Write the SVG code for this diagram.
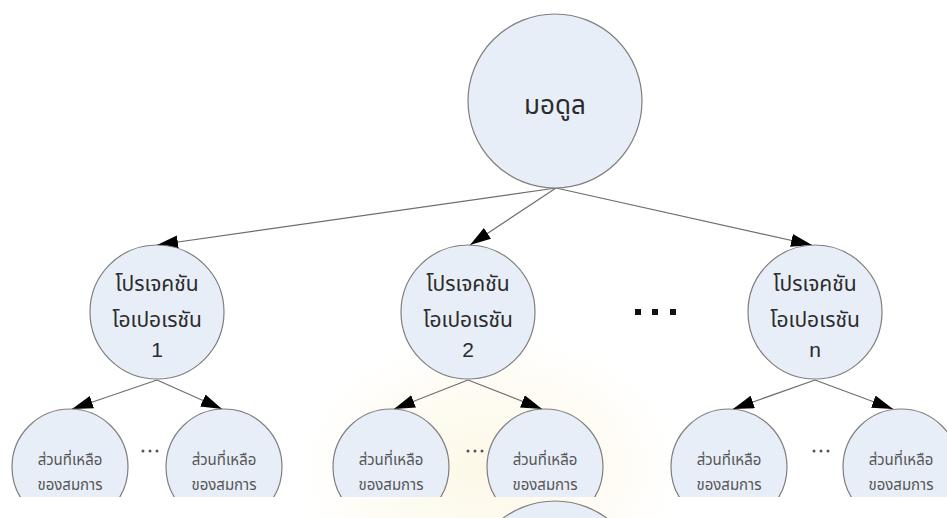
<svg xmlns="http://www.w3.org/2000/svg" width="947" height="518" viewBox="0 0 947 518">
  <style>
    .node { fill: #e8eef8; stroke: #7f7f7f; stroke-width: 1.2; }
    .edge { stroke: #6e6e6e; stroke-width: 1.2; fill: none; marker-end: url(#arrow); }
    .title { font-family: "Noto Sans Thai", Tahoma, "Noto Sans", "DejaVu Sans", sans-serif; font-size: 26px; fill: #2b2b2b; text-anchor: middle; }
    .big { font-family: "Noto Sans Thai", Tahoma, "Noto Sans", "DejaVu Sans", sans-serif; font-size: 21px; fill: #2b2b2b; text-anchor: middle; }
    .num { font-family: "Liberation Sans", Arial, sans-serif; font-size: 21px; fill: #2b2b2b; text-anchor: middle; }
    .small { font-family: "Noto Sans Thai", Tahoma, "Noto Sans", "DejaVu Sans", sans-serif; font-size: 15px; fill: #555; text-anchor: middle; }
    .dot { fill: #111; }
    .sdot { fill: #555; }
  </style>
  <defs>
    <marker id="arrow" markerUnits="userSpaceOnUse" markerWidth="22" markerHeight="14" refX="21" refY="6.5" orient="auto">
      <path d="M0,0 L21,6.5 L0,13 z" fill="#000"/>
    </marker>
    <radialGradient id="glow" cx="0.5" cy="0.5" r="0.5">
      <stop offset="0" stop-color="#fbf2d2" stop-opacity="0.55"/>
      <stop offset="0.65" stop-color="#fdf7e4" stop-opacity="0.35"/>
      <stop offset="1" stop-color="#ffffff" stop-opacity="0"/>
    </radialGradient>
    <clipPath id="page">
      <rect x="0" y="0" width="947" height="497"/>
    </clipPath>
  </defs>

  <rect x="0" y="0" width="947" height="518" fill="#ffffff"/>
  <!-- faint seal behind the lower middle -->
  <ellipse cx="490" cy="470" rx="210" ry="150" fill="url(#glow)"/>

  <g id="connectors">
    <line class="edge" x1="556" y1="188" x2="157" y2="245"/>
    <line class="edge" x1="556" y1="188" x2="470" y2="245"/>
    <line class="edge" x1="556" y1="188" x2="812" y2="245"/>
    <line class="edge" x1="157" y1="380" x2="72" y2="409"/>
    <line class="edge" x1="157" y1="380" x2="222" y2="409"/>
    <line class="edge" x1="468" y1="380" x2="394" y2="409"/>
    <line class="edge" x1="468" y1="380" x2="542" y2="409"/>
    <line class="edge" x1="815" y1="380" x2="733" y2="409"/>
    <line class="edge" x1="815" y1="380" x2="893" y2="409"/>
  </g>

  <g id="module">
    <circle class="node" cx="555" cy="101" r="87"/>
    <text class="title" x="555" y="114">มอดูล</text>
  </g>

  <g id="projection-1">
    <circle class="node" cx="157" cy="312" r="67"/>
    <text class="big" x="157" y="291">โปรเจคชัน</text>
    <text class="big" x="157" y="327">โอเปอเรชัน</text>
    <text class="num" x="157" y="357">1</text>
  </g>

  <g id="projection-2">
    <circle class="node" cx="468" cy="312" r="67"/>
    <text class="big" x="468" y="291">โปรเจคชัน</text>
    <text class="big" x="468" y="327">โอเปอเรชัน</text>
    <text class="num" x="468" y="357">2</text>
  </g>

  <g id="projection-ellipsis">
    <rect class="dot" x="635" y="309" width="6" height="6"/>
    <rect class="dot" x="652" y="309" width="6" height="6"/>
    <rect class="dot" x="670" y="309" width="6" height="6"/>
  </g>

  <g id="projection-n">
    <circle class="node" cx="815" cy="312" r="67"/>
    <text class="big" x="815" y="291">โปรเจคชัน</text>
    <text class="big" x="815" y="327">โอเปอเรชัน</text>
    <text class="num" x="815" y="357">n</text>
  </g>

  <g clip-path="url(#page)">
    <g id="rest-1a">
      <circle class="node" cx="70" cy="467" r="58"/>
      <text class="small" x="70" y="465">ส่วนที่เหลือ</text>
      <text class="small" x="70" y="490">ของสมการ</text>
    </g>
    <g id="rest-1-ellipsis">
      <circle class="sdot" cx="143" cy="451" r="1.5"/>
      <circle class="sdot" cx="150" cy="451" r="1.5"/>
      <circle class="sdot" cx="157" cy="451" r="1.5"/>
    </g>
    <g id="rest-1b">
      <circle class="node" cx="224" cy="467" r="58"/>
      <text class="small" x="224" y="465">ส่วนที่เหลือ</text>
      <text class="small" x="224" y="490">ของสมการ</text>
    </g>

    <g id="rest-2a">
      <circle class="node" cx="391" cy="467" r="58"/>
      <text class="small" x="391" y="465">ส่วนที่เหลือ</text>
      <text class="small" x="391" y="490">ของสมการ</text>
    </g>
    <g id="rest-2-ellipsis">
      <circle class="sdot" cx="468" cy="451" r="1.5"/>
      <circle class="sdot" cx="475" cy="451" r="1.5"/>
      <circle class="sdot" cx="482" cy="451" r="1.5"/>
    </g>
    <g id="rest-2b">
      <circle class="node" cx="545" cy="467" r="58"/>
      <text class="small" x="545" y="465">ส่วนที่เหลือ</text>
      <text class="small" x="545" y="490">ของสมการ</text>
    </g>

    <g id="rest-na">
      <circle class="node" cx="729" cy="467" r="58"/>
      <text class="small" x="729" y="465">ส่วนที่เหลือ</text>
      <text class="small" x="729" y="490">ของสมการ</text>
    </g>
    <g id="rest-n-ellipsis">
      <circle class="sdot" cx="814" cy="451" r="1.5"/>
      <circle class="sdot" cx="821" cy="451" r="1.5"/>
      <circle class="sdot" cx="828" cy="451" r="1.5"/>
    </g>
    <g id="rest-nb">
      <circle class="node" cx="901" cy="467" r="58"/>
      <text class="small" x="901" y="465">ส่วนที่เหลือ</text>
      <text class="small" x="901" y="490">ของสมการ</text>
    </g>
  </g>

  <!-- top of the following module circle, below the page break -->
  <g id="module-next">
    <circle class="node" cx="555" cy="588" r="87"/>
  </g>
</svg>
